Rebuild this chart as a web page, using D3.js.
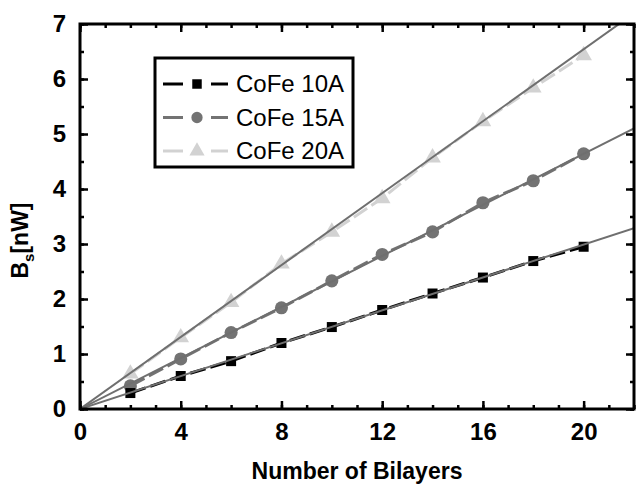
<!DOCTYPE html>
<html>
<head>
<meta charset="utf-8">
<script src="https://cdn.jsdelivr.net/npm/d3@7"></script>
<style>
  body { margin: 0; background: #fff; }
  svg { display: block; }
  .tick-label { font-family: "Liberation Sans", Arial, sans-serif; font-weight: bold; font-size: 24px; }
  .axis-title { font-family: "Liberation Sans", Arial, sans-serif; font-weight: bold; font-size: 23px; }
  .legend-text { font-family: "Liberation Sans", Arial, sans-serif; font-size: 24px; }
</style>
</head>
<body>
<svg id="chart"></svg>
<script>
// data
var bilayers = [2, 4, 6, 8, 10, 12, 14, 16, 18, 20];
var cofe10 = [0.29, 0.60, 0.87, 1.20, 1.49, 1.80, 2.10, 2.39, 2.69, 2.95];
var cofe15 = [0.42, 0.91, 1.39, 1.84, 2.33, 2.81, 3.22, 3.75, 4.15, 4.64];
var cofe20 = [0.64, 1.30, 1.94, 2.64, 3.22, 3.83, 4.57, 5.23, 5.84, 6.43];
var fitSlopes = [0.1495, 0.232, 0.327];
var seriesNames = ["CoFe 10A", "CoFe 15A", "CoFe 20A"];
var xTicks = [0, 4, 8, 12, 16, 20];
var yTicks = [0, 1, 2, 3, 4, 5, 6, 7];

//begin: layout conf.
var svgWidth = 644,
    svgHeight = 491,
    margin = {top: 24, right: 10, bottom: 82, left: 80},
    width = svgWidth - margin.left - margin.right,
    height = svgHeight - margin.top - margin.bottom;
//end: layout conf.

var colors = ["#000000", "#737373", "#d2d2d2"],
    markers = [d3.symbolSquare, d3.symbolCircle, d3.symbolTriangle],
    markerSizes = [100, 135, 120],
    legendSizes = [90, 100, 100],
    fitColor = "#6f6f6f";

var series = [cofe10, cofe15, cofe20].map(function(vals, i) {
  return {
    name: seriesNames[i],
    color: colors[i],
    marker: markers[i],
    size: markerSizes[i],
    legendSize: legendSizes[i],
    slope: fitSlopes[i],
    points: bilayers.map(function(b, j) { return {x: b, y: vals[j]}; })
  };
});

var x = d3.scaleLinear().domain([0, 22]).range([0, width]);
var y = d3.scaleLinear().domain([0, 7]).range([height, 0]);

var svg = d3.select("#chart")
    .attr("width", svgWidth)
    .attr("height", svgHeight);

var g = svg.append("g")
    .attr("transform", "translate(" + [margin.left, margin.top] + ")");

svg.append("defs").append("clipPath")
    .attr("id", "plotclip")
  .append("rect")
    .attr("width", width)
    .attr("height", height);

var plot = g.append("g").attr("clip-path", "url(#plotclip)");

// data lines (dashed) with markers, drawn from back to front
var line = d3.line()
    .x(function(d) { return x(d.x); })
    .y(function(d) { return y(d.y); });

series.slice().reverse().forEach(function(s) {
  plot.append("path")
      .datum(s.points)
      .attr("fill", "none")
      .attr("stroke", s.color)
      .attr("stroke-width", 3)
      .attr("stroke-dasharray", "16,5")
      .attr("d", line);
  plot.selectAll(null)
      .data(s.points)
      .enter()
      .append("path")
        .attr("transform", function(d) { return "translate(" + [x(d.x), y(d.y)] + ")"; })
        .attr("d", d3.symbol().type(s.marker).size(s.size))
        .attr("fill", s.color);
});

// linear fits through the origin
series.forEach(function(s) {
  plot.append("path")
      .datum([{x: 0, y: 0}, {x: 22, y: 22 * s.slope}])
      .attr("fill", "none")
      .attr("stroke", fitColor)
      .attr("stroke-width", 2)
      .attr("d", line);
});

// axes with inward ticks on all four sides
function drawAxis(axis, transform) {
  var a = g.append("g").attr("transform", transform).call(axis);
  a.select(".domain").remove();
  a.selectAll("line").attr("stroke", "#000").attr("stroke-width", 2.5);
  return a;
}

var xMinor = d3.range(0, 23, 1), yMinor = d3.range(0, 7.01, 0.5);

drawAxis(d3.axisBottom(x).tickValues(xMinor).tickSize(-4).tickFormat(""), "translate(0," + height + ")");
drawAxis(d3.axisTop(x).tickValues(xMinor).tickSize(-4).tickFormat(""), "translate(0,0)");
drawAxis(d3.axisLeft(y).tickValues(yMinor).tickSize(-4).tickFormat(""), "translate(0,0)");
drawAxis(d3.axisRight(y).tickValues(yMinor).tickSize(-4).tickFormat(""), "translate(" + width + ",0)");

var xb = drawAxis(d3.axisBottom(x).tickValues(xTicks).tickSize(-8).tickPadding(14).tickFormat(d3.format("d")), "translate(0," + height + ")");
drawAxis(d3.axisTop(x).tickValues(xTicks).tickSize(-8).tickFormat(""), "translate(0,0)");
var yl = drawAxis(d3.axisLeft(y).tickValues(yTicks).tickSize(-8).tickPadding(14).tickFormat(d3.format("d")), "translate(0,0)");
drawAxis(d3.axisRight(y).tickValues(yTicks).tickSize(-8).tickFormat(""), "translate(" + width + ",0)");

xb.selectAll("text").attr("class", "tick-label").attr("fill", "#000").attr("font-family", null).attr("font-size", null);
yl.selectAll("text").attr("class", "tick-label").attr("fill", "#000").attr("font-family", null).attr("font-size", null);

// frame
g.append("rect")
    .attr("width", width)
    .attr("height", height)
    .attr("fill", "none")
    .attr("stroke", "#000")
    .attr("stroke-width", 3);

// axis titles
g.append("text")
    .attr("class", "axis-title")
    .attr("x", width / 2)
    .attr("y", height + 70)
    .attr("text-anchor", "middle")
    .text("Number of Bilayers");

var yTitle = g.append("text")
    .attr("class", "axis-title")
    .attr("transform", "translate(" + [-52, height / 2 + 24] + ") rotate(-90)")
    .attr("text-anchor", "middle");
yTitle.append("tspan").text("B");
yTitle.append("tspan").attr("font-size", "15px").attr("dy", 6).text("s");
yTitle.append("tspan").attr("dy", -6).text("[nW]");

// legend
var legend = g.append("g")
    .attr("transform", "translate(" + [75, 34] + ")");

legend.append("rect")
    .attr("width", 198)
    .attr("height", 109)
    .attr("fill", "#fff")
    .attr("stroke", "#000")
    .attr("stroke-width", 3);

var rows = legend.selectAll(".row")
    .data(series)
    .enter()
    .append("g")
      .attr("transform", function(d, i) { return "translate(" + [0, 26 + i * 33.5] + ")"; });

rows.append("line")
    .attr("x1", 8).attr("x2", 28)
    .attr("stroke", function(d) { return d.color; })
    .attr("stroke-width", 3);
rows.append("line")
    .attr("x1", 56).attr("x2", 73)
    .attr("stroke", function(d) { return d.color; })
    .attr("stroke-width", 3);
rows.append("path")
    .attr("transform", "translate(42,0)")
    .attr("d", function(d) { return d3.symbol().type(d.marker).size(d.legendSize)(); })
    .attr("fill", function(d) { return d.color; });
rows.append("text")
    .attr("class", "legend-text")
    .attr("x", 81)
    .attr("dy", "0.35em")
    .text(function(d) { return d.name; });
</script>
</body>
</html>
